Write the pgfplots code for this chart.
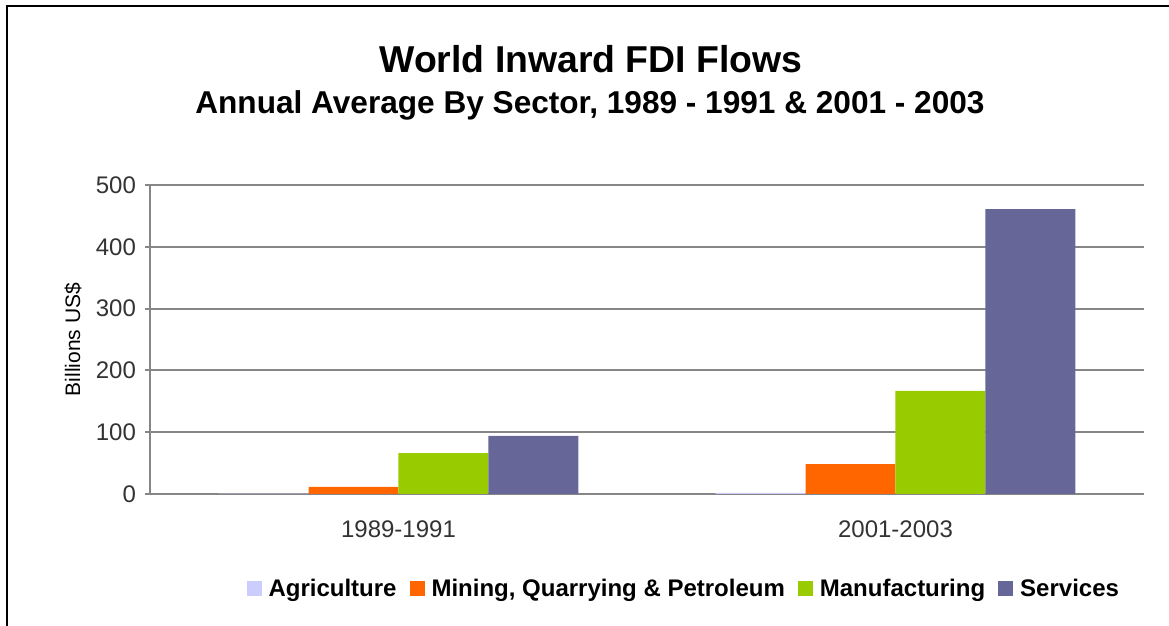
\documentclass[border=0pt]{standalone}
\usepackage{fontspec}
\setmainfont{Liberation Sans}
\usepackage{pgfplots}
\pgfplotsset{compat=1.18}

\definecolor{agri}{HTML}{CCCCFF}
\definecolor{mining}{HTML}{FF6600}
\definecolor{manuf}{HTML}{99CC00}
\definecolor{serv}{HTML}{666699}
\definecolor{gridgray}{HTML}{868686}
\definecolor{ticktext}{HTML}{333333}

\begin{document}
\begin{tikzpicture}
% page = 1169x626 px at 0.5pt per px
\useasboundingbox (0pt,0pt) rectangle (584.5pt,313pt);
\draw[line width=1pt] (3.5pt,0pt) -- (3.5pt,310pt) -- (584.5pt,310pt);

\node[anchor=base,font=\bfseries\fontsize{18.7}{22}\selectfont] at (295.5pt,276.5pt) {World Inward FDI Flows};
\node[anchor=base,font=\bfseries\fontsize{15.8}{19}\selectfont] at (295pt,256pt) {Annual Average By Sector, 1989 - 1991 \& 2001 - 2003};

\begin{axis}[
    at={(75pt,66pt)}, anchor=south west,
    scale only axis,
    width=497pt, height=154.5pt,
    xmin=-0.5, xmax=1.5,
    ymin=0, ymax=500,
    ytick={0,100,...,500},
    xtick={0,1},
    xticklabels={1989-1991,2001-2003},
    axis x line*=bottom,
    axis y line*=left,
    axis line style={gridgray, line width=1pt, -},
    ymajorgrids,
    major grid style={gridgray, line width=1pt},
    tick align=outside,
    major tick length=2.5pt,
    xtick style={draw=none},
    ytick style={gridgray, line width=1pt},
    tick label style={font=\fontsize{12}{14}\selectfont, text=ticktext},
    /pgf/number format/assume math mode=true,
    xticklabel style={yshift=-7.5pt},
    yticklabel style={xshift=-1pt},
    ylabel={Billions US\$},
    ylabel style={at={(axis description cs:-0.0775,0.5)}, anchor=center, font=\fontsize{10.5}{12}\selectfont},
    ybar,
    bar width=0.181,
    legend columns=4,
    legend style={draw=none, fill=none,
        at={(0.538,-0.307)}, anchor=center,
        font=\bfseries\fontsize{12}{14}\selectfont,
        /tikz/every odd column/.append style={column sep=1.5pt},
        /tikz/every even column/.append style={column sep=4.5pt},
        inner sep=0pt},
    legend image code/.code={\fill[#1] (0pt,-3.75pt) rectangle (7.5pt,3.75pt);},
]
\addplot[fill=agri, draw=none, bar shift=-0.2715] coordinates {(0,0.6) (1,1.7)};
\addplot[fill=mining, draw=none, bar shift=-0.0905] coordinates {(0,11.5) (1,48.5)};
\addplot[fill=manuf, draw=none, bar shift=0.0905] coordinates {(0,66) (1,167)};
\addplot[fill=serv, draw=none, bar shift=0.2715] coordinates {(0,94) (1,461)};
\legend{Agriculture, {Mining, Quarrying \& Petroleum}, Manufacturing, Services}
\end{axis}
\end{tikzpicture}
\end{document}
